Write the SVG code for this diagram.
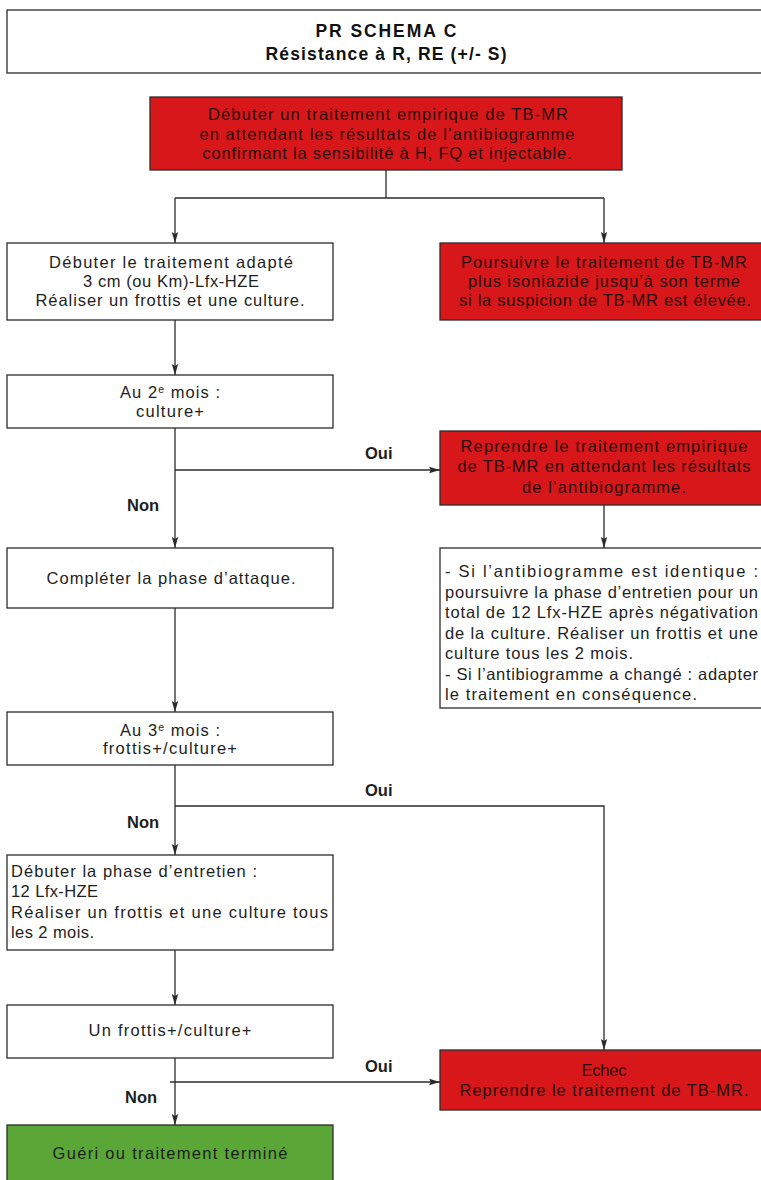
<svg xmlns="http://www.w3.org/2000/svg" width="761" height="1180" viewBox="0 0 761 1180">
<style>
  .box{fill:#ffffff;stroke:#2b2b2b;stroke-width:1.3}
  .red{fill:#d71719;stroke:#2b2b2b;stroke-width:1.3}
  .green{fill:#5aa737;stroke:#2b2b2b;stroke-width:1.3}
  text{font-family:"Liberation Sans",Arial,sans-serif;font-size:16.5px;fill:#1e1e1e}
  .c{text-anchor:middle}
  .dk{fill:#2a0c0c}
  .b{font-weight:bold}
  .ttl{font-weight:bold;font-size:17.5px;fill:#111}
  .conn{fill:none;stroke:#2b2b2b;stroke-width:1.3}
</style>
<defs>
  <marker id="arr" markerUnits="userSpaceOnUse" markerWidth="11" markerHeight="10" viewBox="0 0 11 10" refX="11" refY="5" orient="auto">
    <path d="M0,1.8 L11,5 L0,8.2 L2,5 Z" fill="#2b2b2b"/>
  </marker>
</defs>

<g id="title">
  <rect class="box" x="7" y="10" width="756" height="63"/>
  <text class="c ttl" x="386" y="37" textLength="141" lengthAdjust="spacing">PR SCHEMA C</text>
  <text class="c ttl" x="386" y="60" textLength="241" lengthAdjust="spacing">Résistance à R, RE (+/- S)</text>
</g>

<g id="n-debut-empirique">
  <rect class="red" x="150" y="97" width="472" height="73"/>
  <text class="c dk" x="388" y="120" textLength="360" lengthAdjust="spacing">Débuter un traitement empirique de TB-MR</text>
  <text class="c dk" x="387" y="139.5" textLength="375" lengthAdjust="spacing">en attendant les résultats de l’antibiogramme</text>
  <text class="c dk" x="387" y="159" textLength="369" lengthAdjust="spacing">confirmant la sensibilité à H, FQ et injectable.</text>
</g>

<g id="n-traitement-adapte">
  <rect class="box" x="7" y="243" width="326" height="77"/>
  <text class="c" x="171" y="268" textLength="244" lengthAdjust="spacing">Débuter le traitement adapté</text>
  <text class="c" x="171" y="287" textLength="176" lengthAdjust="spacing">3 cm (ou Km)-Lfx-HZE</text>
  <text class="c" x="170" y="306" textLength="269" lengthAdjust="spacing">Réaliser un frottis et une culture.</text>
</g>

<g id="n-poursuivre">
  <rect class="red" x="440" y="243" width="323" height="77"/>
  <text class="c dk" x="604" y="268" textLength="286" lengthAdjust="spacing">Poursuivre le traitement de TB-MR</text>
  <text class="c dk" x="604" y="287" textLength="272" lengthAdjust="spacing">plus isoniazide jusqu’à son terme</text>
  <text class="c dk" x="605" y="306" textLength="292" lengthAdjust="spacing">si la suspicion de TB-MR est élevée.</text>
</g>

<g id="n-mois2">
  <rect class="box" x="7" y="375" width="326" height="53"/>
  <text class="c" x="170" y="398" textLength="100" lengthAdjust="spacing">Au 2<tspan font-size="10.5" dy="-5.5">e</tspan><tspan dy="5.5"> mois :</tspan></text>
  <text class="c" x="170" y="417" textLength="68" lengthAdjust="spacing">culture+</text>
</g>

<g id="n-reprendre-empirique">
  <rect class="red" x="440" y="431" width="323" height="74"/>
  <text class="c dk" x="604" y="452" textLength="287" lengthAdjust="spacing">Reprendre le traitement empirique</text>
  <text class="c dk" x="604" y="472" textLength="293" lengthAdjust="spacing">de TB-MR en attendant les résultats</text>
  <text class="c dk" x="604" y="493" textLength="164" lengthAdjust="spacing">de l’antibiogramme.</text>
</g>

<g id="n-antibiogramme">
  <rect class="box" x="440" y="548" width="323" height="160"/>
  <text x="445" y="577" textLength="313" lengthAdjust="spacing">- Si l’antibiogramme est identique :</text>
  <text x="445" y="597.5" textLength="313" lengthAdjust="spacing">poursuivre la phase d’entretien pour un</text>
  <text x="445" y="618" textLength="313" lengthAdjust="spacing">total de 12 Lfx-HZE après négativation</text>
  <text x="445" y="638.5" textLength="313" lengthAdjust="spacing">de la culture. Réaliser un frottis et une</text>
  <text x="445" y="659" textLength="188" lengthAdjust="spacing">culture tous les 2 mois.</text>
  <text x="445" y="679.5" textLength="313" lengthAdjust="spacing">- Si l’antibiogramme a changé : adapter</text>
  <text x="445" y="700" textLength="252" lengthAdjust="spacing">le traitement en conséquence.</text>
</g>

<g id="n-completer">
  <rect class="box" x="7" y="548" width="326" height="60"/>
  <text class="c" x="171" y="584" textLength="249" lengthAdjust="spacing">Compléter la phase d’attaque.</text>
</g>

<g id="n-mois3">
  <rect class="box" x="7" y="712" width="326" height="53"/>
  <text class="c" x="170" y="736" textLength="100" lengthAdjust="spacing">Au 3<tspan font-size="10.5" dy="-5.5">e</tspan><tspan dy="5.5"> mois :</tspan></text>
  <text class="c" x="170" y="754" textLength="134" lengthAdjust="spacing">frottis+/culture+</text>
</g>

<g id="n-entretien">
  <rect class="box" x="7" y="855" width="326" height="95"/>
  <text x="11" y="877" textLength="246" lengthAdjust="spacing">Débuter la phase d’entretien :</text>
  <text x="11" y="897" textLength="87" lengthAdjust="spacing">12 Lfx-HZE</text>
  <text x="11" y="918" textLength="317" lengthAdjust="spacing">Réaliser un frottis et une culture tous</text>
  <text x="11" y="938" textLength="83" lengthAdjust="spacing">les 2 mois.</text>
</g>

<g id="n-frottis">
  <rect class="box" x="7" y="1005" width="326" height="53"/>
  <text class="c" x="170" y="1036" textLength="163" lengthAdjust="spacing">Un frottis+/culture+</text>
</g>

<g id="n-gueri">
  <rect class="green" x="7" y="1125" width="326" height="60"/>
  <text class="c" x="170" y="1159" textLength="235" lengthAdjust="spacing">Guéri ou traitement terminé</text>
</g>

<g id="n-echec">
  <rect class="red" x="440" y="1050" width="323" height="60"/>
  <text class="c dk" x="604" y="1076" textLength="45" lengthAdjust="spacing">Echec</text>
  <text class="c dk" x="604" y="1096" textLength="289" lengthAdjust="spacing">Reprendre le traitement de TB-MR.</text>
</g>

<g id="connectors">
  <path class="conn" d="M386,170 V198"/>
  <path class="conn" d="M175,198 H604"/>
  <path class="conn" d="M175,198 V243" marker-end="url(#arr)"/>
  <path class="conn" d="M604,198 V243" marker-end="url(#arr)"/>
  <path class="conn" d="M175,320 V375" marker-end="url(#arr)"/>
  <path class="conn" d="M175,428 V548" marker-end="url(#arr)"/>
  <path class="conn" d="M175,470 H440" marker-end="url(#arr)"/>
  <path class="conn" d="M604,505 V548" marker-end="url(#arr)"/>
  <path class="conn" d="M175,608 V712" marker-end="url(#arr)"/>
  <path class="conn" d="M175,765 V855" marker-end="url(#arr)"/>
  <path class="conn" d="M175,806 H604 V1050" marker-end="url(#arr)"/>
  <path class="conn" d="M175,950 V1005" marker-end="url(#arr)"/>
  <path class="conn" d="M175,1058 V1125" marker-end="url(#arr)"/>
  <path class="conn" d="M170,1082 H440" marker-end="url(#arr)"/>
  <text class="b" x="365" y="459">Oui</text>
  <text class="b" x="127" y="511">Non</text>
  <text class="b" x="365" y="796">Oui</text>
  <text class="b" x="127" y="828">Non</text>
  <text class="b" x="365" y="1072">Oui</text>
  <text class="b" x="125" y="1103">Non</text>
</g>
</svg>
